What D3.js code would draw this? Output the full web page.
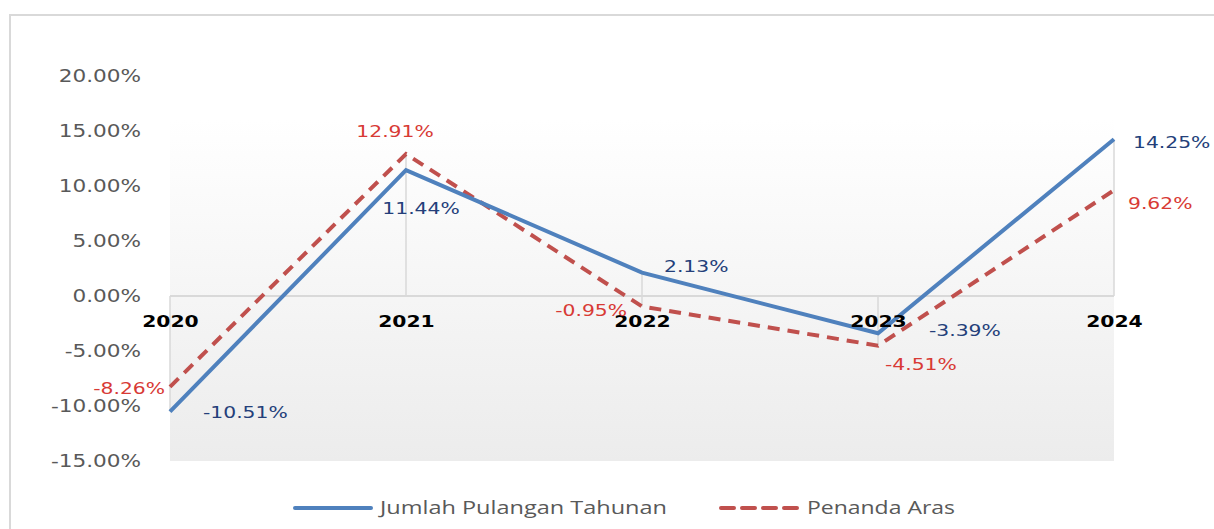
<!DOCTYPE html>
<html>
<head>
<meta charset="utf-8">
<script src="https://cdn.jsdelivr.net/npm/d3@7"></script>
<style>
  body { margin: 0; background: #fff; }
  svg { display: block; }
</style>
</head>
<body>
<svg id="chart"></svg>
<script>
var width = 1214;
var height = 529;

// data
var years = ["2020", "2021", "2022", "2023", "2024"];
var annualReturn = [-10.51, 11.44, 2.13, -3.39, 14.25];
var benchmark = [-8.26, 12.91, -0.95, -4.51, 9.62];
var yTicks = [-15, -10, -5, 0, 5, 10, 15, 20];
var seriesNames = ["Jumlah Pulangan Tahunan", "Penanda Aras"];

// label placement relative to each point: [dx, dy, anchor]
var blueLabelPos = [[33, 6, "start"], [15, 44, "middle"], [22, -1, "start"], [51, 3, "start"], [19, 9, "start"]];
var redLabelPos = [[-5, 7, "end"], [-11, -17, "middle"], [-15, 10, "end"], [7, 24, "start"], [14, 19, "start"]];

var blue = "#4f81bd";
var red = "#c0504d";
var blueText = "#243f7a";
var redText = "#d83a35";
var stretch = 1.27;

var svg = d3.select("#chart")
  .attr("width", width)
  .attr("height", height);

// outer frame (left + top edges visible)
svg.append("path")
  .attr("d", "M10,529 L10,15 L1214,15")
  .attr("fill", "none")
  .attr("stroke", "#d9d9d9")
  .attr("stroke-width", 2);

var x = d3.scalePoint()
  .domain(years)
  .range([170, 1114]);

var y = d3.scaleLinear()
  .domain([-15, 20])
  .range([461, 76]);

// plot background gradient
var defs = svg.append("defs");
var grad = defs.append("linearGradient")
  .attr("id", "bg")
  .attr("x1", 0).attr("y1", 0)
  .attr("x2", 0).attr("y2", 1);
grad.append("stop").attr("offset", "0%").attr("stop-color", "#ffffff");
grad.append("stop").attr("offset", "100%").attr("stop-color", "#ececec");

svg.append("rect")
  .attr("x", x("2020"))
  .attr("y", y(16))
  .attr("width", x("2024") - x("2020"))
  .attr("height", y(-15) - y(16))
  .attr("fill", "url(#bg)");

// drop lines from each category to the axis
svg.selectAll(".drop")
  .data(years)
  .enter()
    .append("line")
      .attr("class", "drop")
      .attr("x1", function(d) { return x(d); })
      .attr("x2", function(d) { return x(d); })
      .attr("y1", function(d, i) { return y(Math.max(0, annualReturn[i], benchmark[i])); })
      .attr("y2", function(d, i) { return y(Math.min(0, annualReturn[i], benchmark[i])); })
      .attr("stroke", "#d9d9d9")
      .attr("stroke-width", 1.5);

// zero line
svg.append("line")
  .attr("x1", x("2020"))
  .attr("x2", x("2024"))
  .attr("y1", y(0))
  .attr("y2", y(0))
  .attr("stroke", "#d9d9d9")
  .attr("stroke-width", 2);

// y axis
var yAxis = svg.append("g")
  .attr("transform", "translate(" + x("2020") + ",0)")
  .call(d3.axisLeft(y)
    .tickValues(yTicks)
    .tickSize(0)
    .tickPadding(0)
    .tickFormat(function(d) { return d.toFixed(2) + "%"; }));
yAxis.select(".domain").remove();
yAxis.selectAll("text")
  .attr("x", -29 / stretch)
  .attr("transform", "scale(" + stretch + ",1)")
  .attr("fill", "#595959")
  .style("font-family", "DejaVu Sans")
  .style("font-size", "17px");

var line = d3.line()
  .x(function(d, i) { return x(years[i]); })
  .y(function(d) { return y(d); });

svg.append("path")
  .datum(benchmark)
  .attr("d", line)
  .attr("fill", "none")
  .attr("stroke", red)
  .attr("stroke-width", 4)
  .attr("stroke-dasharray", "12,8");

svg.append("path")
  .datum(annualReturn)
  .attr("d", line)
  .attr("fill", "none")
  .attr("stroke", blue)
  .attr("stroke-width", 4);

// x axis on zero line, drawn over the lines
var xAxis = svg.append("g")
  .attr("transform", "translate(0," + y(0) + ")")
  .call(d3.axisBottom(x).tickSize(0).tickPadding(20));
xAxis.select(".domain").remove();
xAxis.selectAll(".tick text")
  .attr("transform", "scale(" + stretch + ",1)")
  .attr("fill", "#000")
  .style("font-family", "DejaVu Sans")
  .style("font-weight", "bold")
  .style("font-size", "16px");

function addLabels(values, pos, color) {
  svg.append("g")
    .selectAll("text")
    .data(values)
    .enter()
      .append("text")
        .attr("transform", function(d, i) {
          return "translate(" + (x(years[i]) + pos[i][0]) + "," + (y(d) + pos[i][1]) + ") scale(" + stretch + ",1)";
        })
        .attr("text-anchor", function(d, i) { return pos[i][2]; })
        .attr("fill", color)
        .style("font-family", "DejaVu Sans")
        .style("font-size", "16px")
        .text(function(d) { return d.toFixed(2) + "%"; });
}
addLabels(annualReturn, blueLabelPos, blueText);
addLabels(benchmark, redLabelPos, redText);

// legend
var legend = svg.append("g");
legend.append("line")
  .attr("x1", 295).attr("x2", 371)
  .attr("y1", 508).attr("y2", 508)
  .attr("stroke", blue)
  .attr("stroke-width", 4)
  .attr("stroke-linecap", "round");
legend.append("text")
  .attr("x", 380).attr("y", 514)
  .attr("textLength", 287)
  .attr("lengthAdjust", "spacingAndGlyphs")
  .attr("fill", "#595959")
  .style("font-family", "Open Sans")
  .style("font-size", "18px")
  .text(seriesNames[0]);
legend.append("line")
  .attr("x1", 721).attr("x2", 798)
  .attr("y1", 508).attr("y2", 508)
  .attr("stroke", red)
  .attr("stroke-width", 4)
  .attr("stroke-linecap", "round")
  .attr("stroke-dasharray", "13,8");
legend.append("text")
  .attr("x", 807).attr("y", 514)
  .attr("textLength", 148)
  .attr("lengthAdjust", "spacingAndGlyphs")
  .attr("fill", "#595959")
  .style("font-family", "Open Sans")
  .style("font-size", "18px")
  .text(seriesNames[1]);
</script>
</body>
</html>
